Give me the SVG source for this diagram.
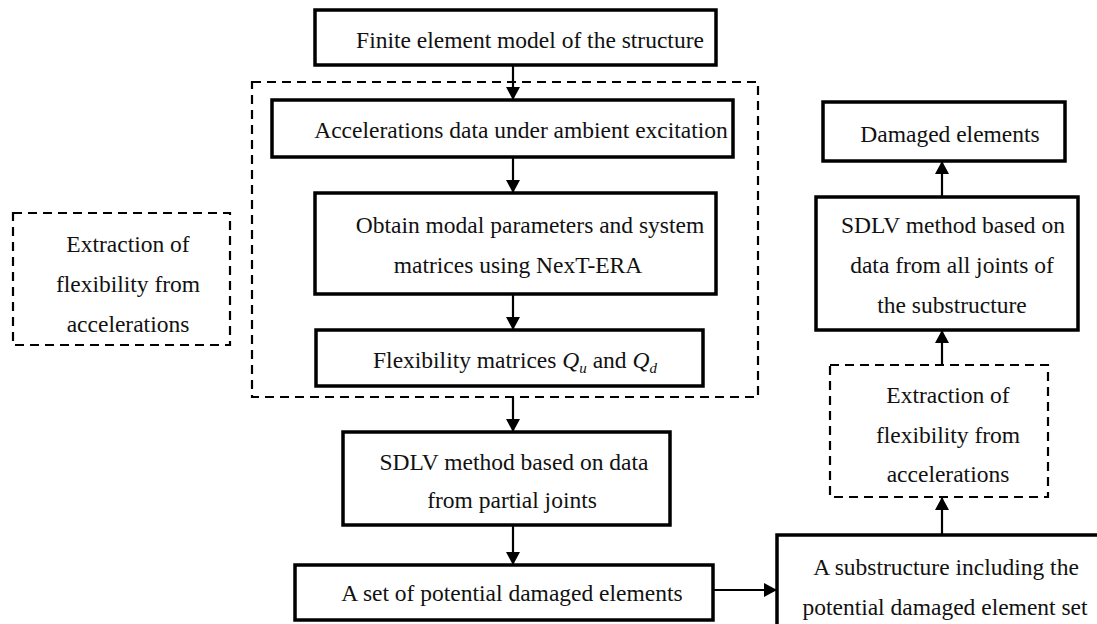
<svg xmlns="http://www.w3.org/2000/svg" width="1097" height="624" viewBox="0 0 1097 624">
<style>
  .solid { fill: #fff; stroke: #000; stroke-width: 3.5; }
  .dash { fill: none; stroke: #000; stroke-width: 2.2; stroke-dasharray: 9 6; }
  .dashbox { fill: #fff; stroke: #000; stroke-width: 2.2; stroke-dasharray: 9 6; }
  text { font-family: "Liberation Serif", "Times New Roman", serif; font-size: 23.5px; fill: #111; text-anchor: middle; }
  .conn { stroke: #000; stroke-width: 2.2; fill: none; marker-end: url(#arr); }
</style>
<defs>
  <marker id="arr" markerUnits="userSpaceOnUse" markerWidth="14" markerHeight="14" viewBox="0 0 14 14" refX="13" refY="7" orient="auto">
    <path d="M0,0 L13,7 L0,14 Z" fill="#000"/>
  </marker>
</defs>
<rect width="1097" height="624" fill="#fff"/>

<g id="group-extraction-main">
  <rect class="dash" x="252" y="82" width="506" height="315"/>
</g>

<g id="connectors">
  <line class="conn" x1="513" y1="65" x2="513" y2="100"/>
  <line class="conn" x1="513" y1="157" x2="513" y2="193"/>
  <line class="conn" x1="513" y1="294" x2="513" y2="330"/>
  <line class="conn" x1="513" y1="397" x2="513" y2="432"/>
  <line class="conn" x1="513" y1="525" x2="513" y2="565"/>
  <line class="conn" x1="713" y1="590" x2="777" y2="590"/>
  <line class="conn" x1="942" y1="535" x2="942" y2="497"/>
  <line class="conn" x1="942" y1="365" x2="942" y2="330"/>
  <line class="conn" x1="942" y1="197" x2="942" y2="161"/>
</g>

<g id="n-fem">
  <rect class="solid" x="315" y="10" width="401" height="55"/>
  <text x="530" y="48">Finite element model of the structure</text>
</g>
<g id="n-acc">
  <rect class="solid" x="272" y="100" width="461" height="57"/>
  <text x="521" y="138">Accelerations data under ambient excitation</text>
</g>
<g id="n-modal">
  <rect class="solid" x="315" y="193" width="401" height="101"/>
  <text x="530" y="233">Obtain modal parameters and system</text>
  <text x="518" y="273">matrices using NexT-ERA</text>
</g>
<g id="n-flex">
  <rect class="solid" x="316" y="330" width="387" height="56"/>
  <text x="515" y="368">Flexibility matrices <tspan font-style="italic">Q</tspan><tspan font-style="italic" font-size="15" dy="5">u</tspan><tspan dy="-5"> and </tspan><tspan font-style="italic">Q</tspan><tspan font-style="italic" font-size="15" dy="5">d</tspan></text>
</g>
<g id="n-extract-left">
  <rect class="dashbox" x="13" y="213" width="217" height="132"/>
  <text x="128" y="252">Extraction of</text>
  <text x="128" y="292">flexibility from</text>
  <text x="128" y="332">accelerations</text>
</g>
<g id="n-sdlv-partial">
  <rect class="solid" x="343" y="432" width="327" height="93"/>
  <text x="514" y="470">SDLV method based on data</text>
  <text x="512" y="508">from partial joints</text>
</g>
<g id="n-potential">
  <rect class="solid" x="295" y="565" width="418" height="55"/>
  <text x="512" y="601">A set of potential damaged elements</text>
</g>
<g id="n-substructure">
  <rect class="solid" x="777" y="535" width="330" height="100"/>
  <text x="946" y="575">A substructure including the</text>
  <text x="945" y="615">potential damaged element set</text>
</g>
<g id="n-extract-right">
  <rect class="dashbox" x="830" y="365" width="218" height="132"/>
  <text x="948" y="403">Extraction of</text>
  <text x="948" y="443">flexibility from</text>
  <text x="948" y="482">accelerations</text>
</g>
<g id="n-sdlv-all">
  <rect class="solid" x="816" y="197" width="262" height="133"/>
  <text x="953" y="233">SDLV method based on</text>
  <text x="952" y="273">data from all joints of</text>
  <text x="952" y="313">the substructure</text>
</g>
<g id="n-damaged">
  <rect class="solid" x="823" y="102" width="242" height="59"/>
  <text x="950" y="142">Damaged elements</text>
</g>
</svg>
